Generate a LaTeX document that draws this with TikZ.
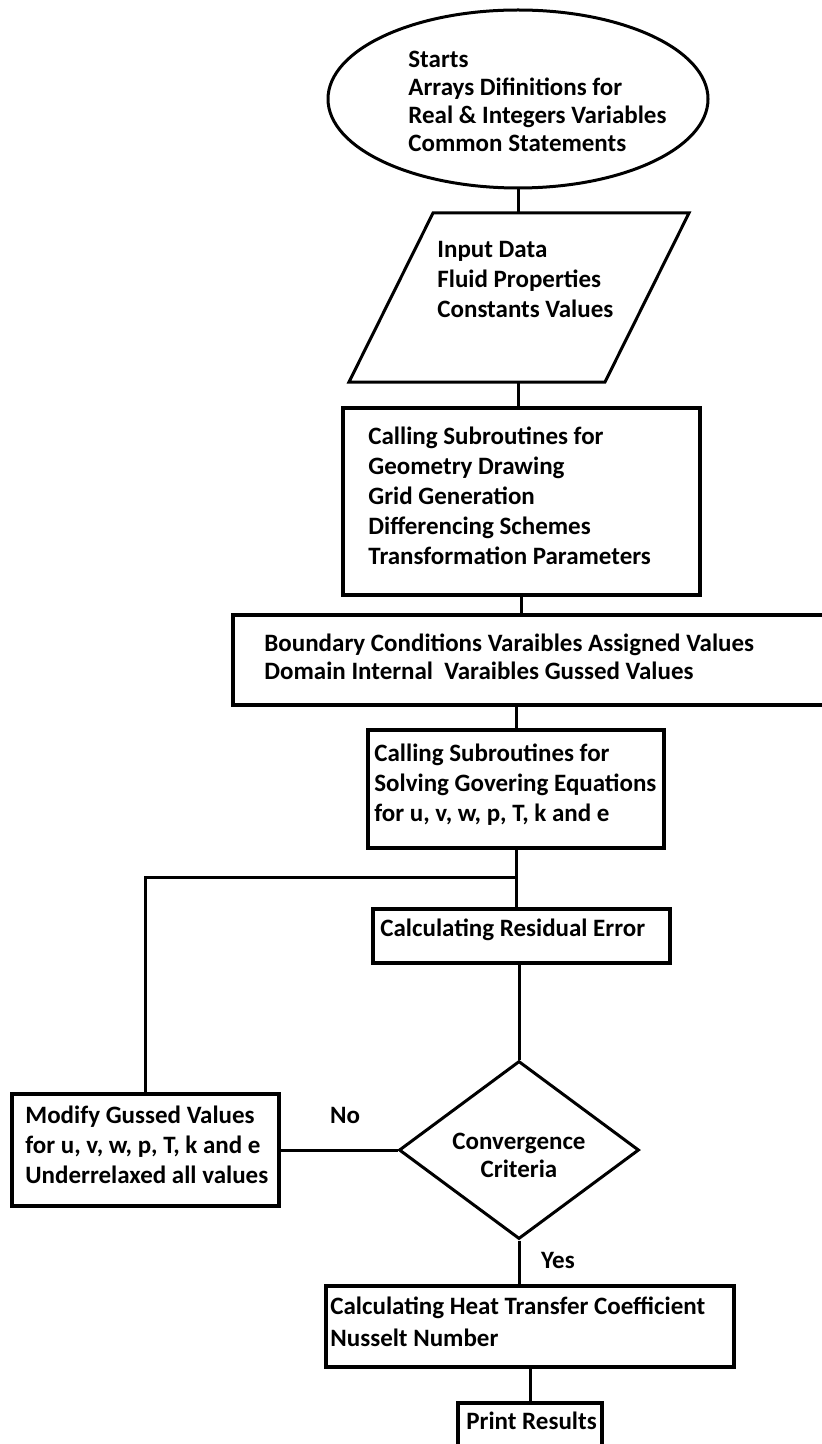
\documentclass[tikz,border=0pt]{standalone}
\usepackage{fontspec}
\setmainfont{Carlito}
\usetikzlibrary{shapes.geometric}
\tikzset{
  shp/.style={draw, line width=1.5pt, inner sep=0pt},
  boxshp/.style={shp, rectangle, line width=2pt},
  txt/.style={anchor=base west, align=left, inner sep=0pt, font=\bfseries\fontsize{12.5}{15}\selectfont},
  link/.style={line width=1.5pt}
}
\begin{document}
\begin{tikzpicture}[x=0.5pt,y=-0.5pt]
\useasboundingbox (0,0) rectangle (821,1444);
% shapes
\node[shp, ellipse, minimum width=190pt, minimum height=89pt] (start) at (518,99) {};
\coordinate (in-tl) at (433,213);
\coordinate (in-tr) at (689,213);
\coordinate (in-br) at (605,382);
\coordinate (in-bl) at (349,382);
\coordinate (in-n) at (518,213);
\coordinate (in-s) at (518,382);
\draw[line width=1.5pt, line join=miter] (in-tl) -- (in-tr) -- (in-br) -- (in-bl) -- cycle;
\node[boxshp, minimum width=178.5pt, minimum height=93.5pt] (geom) at (521.5,501.5) {};
\node[boxshp, minimum width=303.5pt, minimum height=45pt] (bound) at (536.5,660) {};
\node[boxshp, minimum width=148pt, minimum height=59pt] (solve) at (516,789) {};
\node[boxshp, minimum width=148.5pt, minimum height=27pt] (resid) at (521.5,936) {};
\node[shp, diamond, minimum width=120pt, minimum height=89pt] (conv) at (519,1150) {};
\node[boxshp, minimum width=133.5pt, minimum height=56pt] (modify) at (145.5,1150) {};
\node[boxshp, minimum width=204pt, minimum height=40.5pt] (heat) at (530,1326.5) {};
\node[boxshp, minimum width=72pt, minimum height=28.5pt] (print) at (530,1431.5) {};
% texts (anchored at the baseline of the last line)
\node[txt, font=\bfseries\fontsize{12.5}{14}\selectfont] (start-t) at (408,152) {Starts\\Arrays Difinitions for\\Real \& Integers Variables\\Common Statements};
\node[txt] (input-t) at (437,318) {Input Data\\Fluid Properties\\Constants Values};
\node[txt] (geom-t) at (368,564) {Calling Subroutines for\\Geometry Drawing\\Grid Generation\\Differencing Schemes\\Transformation Parameters};
\node[txt, font=\bfseries\fontsize{12.5}{14}\selectfont] (bound-t) at (264,679) {Boundary Conditions Varaibles Assigned Values\\Domain Internal\ \ Varaibles Gussed Values};
\node[txt] (solve-t) at (374,821) {Calling Subroutines for\\Solving Govering Equations\\for u, v, w, p, T, k and e};
\node[txt] (resid-t) at (380,936) {Calculating Residual Error};
\node[txt, anchor=center, align=center, font=\bfseries\fontsize{12.5}{14}\selectfont] (conv-t) at (519,1155) {Convergence\\Criteria};
\node[txt] (modify-t) at (25,1183) {Modify Gussed Values\\for u, v, w, p, T, k and e\\Underrelaxed all values};
\node[txt, font=\bfseries\fontsize{12.5}{16}\selectfont] (heat-t) at (330,1346) {Calculating Heat Transfer Coefficient\\Nusselt Number};
\node[txt] (print-t) at (466,1429) {Print Results};
\node[txt, anchor=center] (no) at (345,1115) {No};
\node[txt, anchor=center] (yes) at (558,1260) {Yes};
% connectors
\coordinate (jn) at (516,877);
\draw[link] (start.south) -- (in-n);
\draw[link] (in-s) -- (in-s |- geom.north);
\draw[link] (geom.south) -- (geom.south |- bound.north);
\draw[link] (bound.south -| solve.north) -- (solve.north);
\draw[link] (solve.south) -- (solve.south |- resid.north);
\draw[link] (jn) -| (modify.north);
\draw[link] (resid.south -| conv.north) -- (conv.north);
\draw[link] (conv.west) -- (modify.east);
\draw[link] (conv.south) -- (conv.south |- heat.north);
\draw[link] (heat.south) -- (print.north);
\end{tikzpicture}
\end{document}
